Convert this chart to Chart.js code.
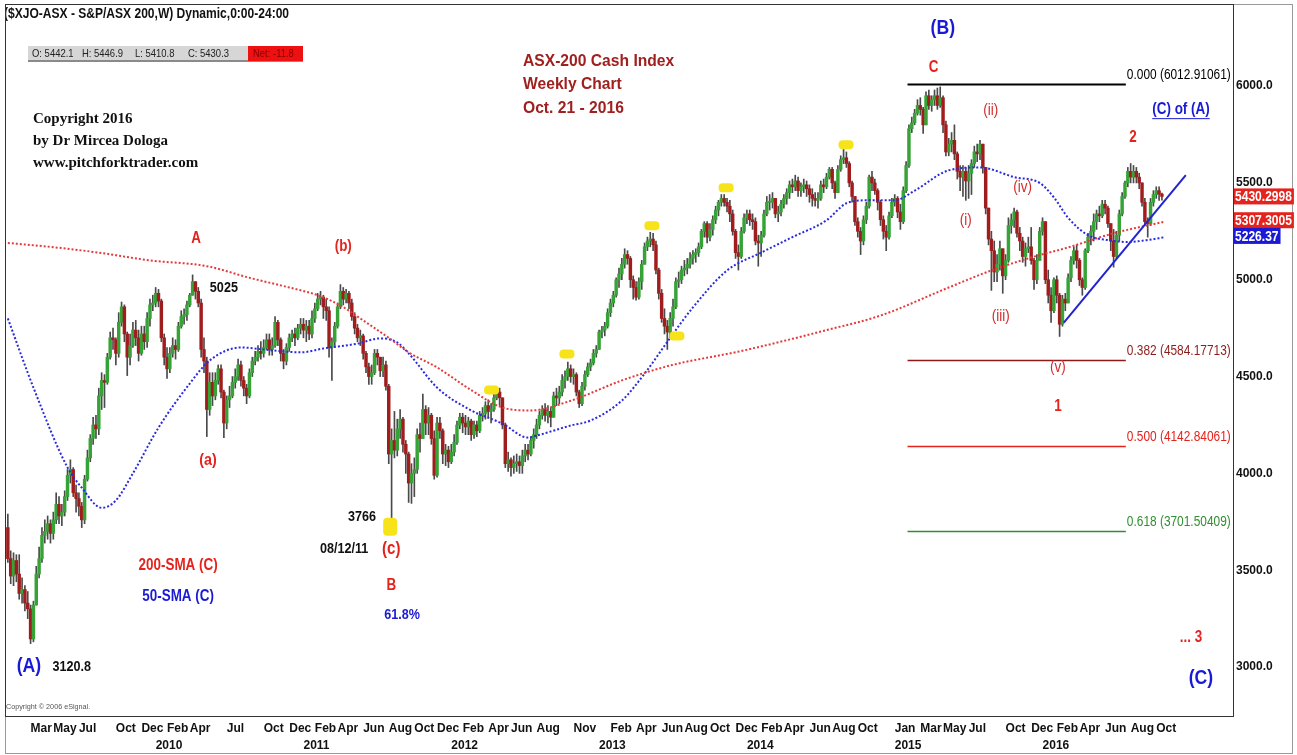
<!DOCTYPE html>
<html>
<head>
<meta charset="utf-8">
<title>ASX-200 Cash Index - Weekly</title>
<script src="https://cdn.jsdelivr.net/npm/chart.js@4.4.1/dist/chart.umd.min.js"></script>
<style>
  html, body { margin: 0; padding: 0; background: #fff; }
  canvas { display: block; }
</style>
</head>
<body>
<canvas id="asx-canvas" width="1297" height="755"></canvas>
<script>
// Barras semanales: semana 0 = 9 ene 2009, última = 21 oct 2016
const firstOpen = 3720;

const closes = [
  3560, 3470, 3550, 3480, 3380, 3400, 3330, 3300, 3145, 3320,   // 0
  3480, 3560, 3680, 3700, 3740, 3690, 3760, 3840, 3780, 3800,   // 10
  3880, 3990, 4020, 3900, 3870, 3830, 3760, 3970, 4080, 4180,   // 20
  4250, 4230, 4400, 4480, 4470, 4600, 4700, 4690, 4620, 4780,   // 30
  4860, 4720, 4600, 4660, 4740, 4700, 4620, 4720, 4680, 4800,   // 40
  4870, 4880, 4930, 4890, 4700, 4600, 4540, 4620, 4660, 4640,   // 50
  4760, 4810, 4820, 4870, 4920, 4990, 4940, 4880, 4640, 4580,   // 60
  4330, 4470, 4400, 4480, 4540, 4420, 4260, 4380, 4400, 4470,   // 70
  4500, 4560, 4480, 4440, 4400, 4520, 4580, 4600, 4630, 4620,   // 80
  4650, 4690, 4640, 4660, 4780, 4690, 4620, 4580, 4650, 4700,   // 90
  4720, 4700, 4750, 4770, 4740, 4760, 4720, 4800, 4850, 4900,   // 100
  4910, 4860, 4840, 4650, 4680, 4760, 4860, 4940, 4900, 4930,   // 110
  4880, 4810, 4750, 4700, 4710, 4620, 4550, 4500, 4520, 4620,   // 120
  4600, 4530, 4560, 4450, 4100, 4170, 4120, 4230, 4280, 4150,   // 130
  4100, 3950, 4000, 4020, 4200, 4180, 4330, 4260, 4300, 4180,   // 140
  3990, 4260, 4220, 4100, 4120, 4060, 4110, 4160, 4250, 4290,   // 150
  4260, 4240, 4270, 4200, 4250, 4220, 4300, 4310, 4350, 4320,   // 160
  4330, 4390, 4420, 4390, 4250, 4050, 4070, 4030, 4050, 4060,   // 170
  4040, 4090, 4120, 4100, 4170, 4200, 4250, 4300, 4330, 4300,   // 180
  4320, 4290, 4400, 4390, 4420, 4480, 4500, 4540, 4500, 4510,   // 190
  4420, 4360, 4450, 4510, 4550, 4570, 4620, 4640, 4730, 4740,   // 200
  4760, 4830, 4880, 4920, 5000, 5030, 5080, 5130, 5110, 5000,   // 210
  4960, 4910, 4990, 5080, 5170, 5200, 5210, 5180, 5050, 4930,   // 220
  4800, 4760, 4730, 4800, 4860, 4990, 5000, 5050, 5060, 5080,   // 230
  5110, 5130, 5140, 5170, 5250, 5290, 5220, 5260, 5310, 5360,   // 240
  5400, 5420, 5400, 5380, 5340, 5250, 5140, 5120, 5250, 5320,   // 250
  5340, 5310, 5300, 5200, 5190, 5230, 5340, 5400, 5400, 5420,   // 260
  5340, 5350, 5390, 5420, 5450, 5490, 5480, 5510, 5460, 5480,   // 270
  5490, 5470, 5440, 5420, 5410, 5420, 5490, 5480, 5530, 5570,   // 280
  5500, 5450, 5570, 5620, 5630, 5600, 5500, 5430, 5300, 5250,   // 290
  5200, 5310, 5380, 5530, 5500, 5460, 5400, 5310, 5250, 5220,   // 300
  5330, 5400, 5420, 5350, 5300, 5460, 5590, 5780, 5810, 5860,   // 310
  5900, 5880, 5800, 5950, 5900, 5930, 5950, 5900, 5940, 5800,   // 320
  5660, 5700, 5720, 5650, 5560, 5530, 5560, 5510, 5550, 5600,   // 330
  5660, 5650, 5700, 5580, 5370, 5210, 5150, 5040, 5080, 5160,   // 340
  5020, 5100, 5280, 5310, 5350, 5240, 5200, 5120, 5160, 5170,   // 350
  5100, 5000, 5100, 5250, 5300, 5000, 4920, 4840, 5000, 4920,   // 360
  4770, 4900, 4880, 5010, 5100, 5150, 5100, 5000, 4960, 5150,   // 370
  5220, 5250, 5300, 5340, 5330, 5390, 5370, 5290, 5200, 5120,   // 380
  5230, 5340, 5430, 5500, 5560, 5530, 5560, 5530, 5500, 5400,   // 390
  5300, 5290, 5400, 5440, 5460, 5442.1, 5430.3                  // 400
];

const highs = [
  3790, 3600, 3590, 3580, 3580, 3460, 3420, 3390, 3320, 3340,
  3520, 3620, 3720, 3760, 3780, 3760, 3800, 3900, 3880, 3840,
  3910, 4020, 4070, 4030, 3940, 3900, 3850, 3990, 4120, 4200,
  4290, 4300, 4440, 4520, 4510, 4620, 4730, 4750, 4700, 4830,
  4885, 4870, 4730, 4720, 4780, 4790, 4740, 4760, 4760, 4830,
  4900, 4920, 4960, 4950, 4900, 4720, 4650, 4650, 4700, 4690,
  4780, 4840, 4850, 4890, 4930, 5025, 4990, 4960, 4900, 4700,
  4600, 4520, 4520, 4520, 4560, 4560, 4430, 4400, 4450, 4500,
  4540, 4590, 4580, 4500, 4460, 4540, 4600, 4630, 4660, 4680,
  4690, 4720, 4720, 4700, 4810, 4790, 4700, 4640, 4670, 4720,
  4740, 4750, 4770, 4800, 4800, 4790, 4790, 4840, 4880, 4930,
  4940, 4920, 4900, 4860, 4700, 4780, 4880, 4975, 4960, 4950,
  4940, 4900, 4830, 4770, 4740, 4720, 4630, 4570, 4560, 4640,
  4640, 4600, 4600, 4580, 4460, 4230, 4320, 4280, 4330, 4290,
  4170, 4110, 4050, 4080, 4230, 4260, 4410, 4350, 4340, 4310,
  4220, 4290, 4290, 4230, 4150, 4140, 4150, 4200, 4270, 4310,
  4310, 4300, 4290, 4280, 4270, 4270, 4320, 4340, 4370, 4380,
  4360, 4410, 4440, 4440, 4390, 4260, 4110, 4080, 4090, 4100,
  4090, 4120, 4150, 4150, 4190, 4230, 4280, 4320, 4350, 4360,
  4350, 4340, 4420, 4440, 4450, 4510, 4530, 4575, 4560, 4540,
  4520, 4430, 4470, 4530, 4570, 4590, 4640, 4660, 4740, 4760,
  4780, 4850, 4900, 4940, 5010, 5060, 5110, 5160, 5150, 5120,
  5020, 4990, 5010, 5100, 5190, 5220, 5245, 5240, 5200, 5060,
  4950, 4850, 4790, 4830, 4900, 5010, 5040, 5070, 5100, 5110,
  5140, 5150, 5160, 5190, 5260, 5300, 5300, 5290, 5330, 5380,
  5410, 5440, 5440, 5420, 5410, 5360, 5260, 5180, 5270, 5340,
  5360, 5360, 5340, 5320, 5230, 5250, 5360, 5430, 5440, 5450,
  5420, 5380, 5410, 5440, 5470, 5510, 5520, 5540, 5530, 5500,
  5520, 5510, 5490, 5470, 5450, 5450, 5510, 5520, 5550, 5580,
  5580, 5510, 5590, 5640, 5680, 5660, 5610, 5510, 5430, 5320,
  5270, 5330, 5400, 5540, 5560, 5520, 5470, 5410, 5330, 5280,
  5350, 5420, 5440, 5430, 5390, 5480, 5610, 5800, 5840, 5880,
  5930, 5940, 5890, 5970, 5980, 5950, 5980, 5990, 5996, 5950,
  5820, 5730, 5760, 5800, 5660, 5590, 5590, 5580, 5590, 5620,
  5690, 5700, 5720, 5700, 5580, 5370, 5250, 5200, 5130, 5200,
  5160, 5130, 5320, 5340, 5370, 5360, 5270, 5220, 5190, 5220,
  5270, 5110, 5130, 5270, 5320, 5290, 5050, 4960, 5010, 5020,
  4930, 4920, 4930, 5030, 5120, 5170, 5180, 5110, 5010, 5160,
  5240, 5280, 5340, 5360, 5380, 5410, 5410, 5380, 5290, 5260,
  5250, 5360, 5450, 5510, 5580, 5600, 5590, 5580, 5550, 5500,
  5420, 5320, 5420, 5460, 5480, 5480, 5446.9
];

const lows = [
  3540, 3430, 3420, 3440, 3350, 3330, 3290, 3250, 3120.8, 3130,
  3330, 3460, 3540, 3640, 3660, 3640, 3660, 3740, 3740, 3730,
  3780, 3860, 3950, 3880, 3800, 3780, 3720, 3740, 3960, 4060,
  4150, 4180, 4200, 4330, 4340, 4460, 4590, 4640, 4560, 4600,
  4760, 4680, 4505, 4560, 4650, 4660, 4580, 4610, 4640, 4650,
  4760, 4840, 4860, 4860, 4680, 4560, 4490, 4520, 4600, 4590,
  4630, 4750, 4770, 4790, 4860, 4920, 4900, 4860, 4600, 4520,
  4190, 4300, 4350, 4380, 4460, 4390, 4185, 4230, 4340, 4390,
  4440, 4480, 4450, 4400, 4360, 4390, 4500, 4560, 4580, 4590,
  4600, 4640, 4610, 4610, 4650, 4660, 4580, 4540, 4560, 4630,
  4680, 4660, 4690, 4720, 4700, 4680, 4690, 4700, 4780, 4840,
  4870, 4800, 4790, 4600, 4480, 4660, 4750, 4850, 4870, 4880,
  4850, 4790, 4720, 4680, 4660, 4590, 4520, 4460, 4460, 4510,
  4560, 4500, 4500, 4430, 4050, 3766, 4080, 4090, 4180, 4110,
  4000, 3850, 3845, 3880, 4000, 4110, 4180, 4200, 4200, 4150,
  3970, 3980, 4180, 4050, 4040, 4030, 4050, 4090, 4150, 4230,
  4210, 4200, 4200, 4170, 4180, 4190, 4210, 4270, 4280, 4290,
  4260, 4320, 4380, 4350, 4230, 4030, 4010, 3985, 4000, 4010,
  4000, 4000, 4060, 4070, 4090, 4130, 4180, 4230, 4280, 4270,
  4260, 4240, 4290, 4350, 4360, 4400, 4440, 4480, 4470, 4460,
  4400, 4340, 4350, 4430, 4500, 4530, 4560, 4600, 4640, 4700,
  4710, 4750, 4810, 4860, 4910, 4960, 5000, 5060, 5080, 4960,
  4900, 4895, 4900, 4950, 5080, 5150, 5170, 5150, 5030, 4900,
  4780, 4720, 4640, 4700, 4760, 4850, 4960, 4980, 5020, 5030,
  5060, 5080, 5090, 5120, 5160, 5220, 5190, 5200, 5230, 5290,
  5330, 5380, 5380, 5350, 5300, 5230, 5110, 5050, 5110, 5240,
  5290, 5280, 5260, 5180, 5070, 5120, 5220, 5330, 5360, 5370,
  5320, 5300, 5330, 5370, 5390, 5420, 5450, 5460, 5430, 5430,
  5450, 5430, 5400, 5380, 5380, 5370, 5410, 5450, 5470, 5520,
  5470, 5420, 5450, 5560, 5600, 5580, 5480, 5400, 5280, 5220,
  5130, 5180, 5290, 5370, 5460, 5440, 5360, 5280, 5210, 5150,
  5210, 5320, 5380, 5320, 5260, 5290, 5450, 5580, 5760, 5800,
  5850, 5850, 5755, 5800, 5880, 5870, 5900, 5880, 5890, 5760,
  5640, 5640, 5660, 5620, 5520, 5460, 5430, 5410, 5420, 5440,
  5580, 5610, 5620, 5550, 5340, 5180, 4945, 4990, 4990, 5050,
  4930, 5000, 5090, 5240, 5270, 5220, 5150, 5090, 5070, 5140,
  5080, 4950, 4980, 5100, 5230, 4980, 4880, 4780, 4830, 4880,
  4707, 4760, 4840, 4880, 4990, 5080, 5060, 4970, 4920, 4950,
  5140, 5180, 5200, 5260, 5300, 5320, 5340, 5270, 5150, 5065,
  5110, 5200, 5330, 5420, 5480, 5500, 5500, 5500, 5470, 5380,
  5280, 5220, 5280, 5380, 5420, 5410, 5410.8
];

// Medias móviles (semana, valor)
const sma200Weeks  = [0, 18, 32, 50, 70, 85, 99, 109, 117, 125, 134, 141, 151, 163, 174, 184, 198, 216, 233, 259, 288, 307, 331, 346, 360, 373, 389, 407];
const sma200Values = [5190, 5165, 5140, 5100, 5070, 5010, 4960, 4920, 4867, 4790, 4700, 4625, 4547, 4430, 4340, 4325, 4375, 4480, 4557, 4635, 4740, 4815, 4960, 5048, 5115, 5167, 5240, 5300];
const sma50Weeks   = [0, 9, 21, 26, 33, 38, 44, 53, 64, 71, 82, 93, 103, 111, 123, 131, 137, 141, 151, 163, 174, 183, 186, 198, 205, 216, 224, 233, 241, 253, 265, 276, 288, 295, 302, 312, 319, 331, 342, 354, 363, 368, 373, 380, 387, 394, 401, 407];
const sma50Values  = [4800, 4443, 4030, 3926, 3822, 3860, 4000, 4236, 4464, 4583, 4650, 4635, 4625, 4645, 4670, 4697, 4676, 4620, 4443, 4325, 4257, 4185, 4195, 4247, 4273, 4376, 4515, 4700, 4857, 5048, 5140, 5220, 5307, 5395, 5410, 5410, 5460, 5565, 5580, 5530, 5500, 5425, 5320, 5230, 5205, 5195, 5205, 5220];

// Etiquetas del eje temporal
const monthTickWeeks  = [8, 16, 25, 38, 47, 56, 64, 77, 90, 99, 108, 116, 125, 134, 143, 151, 160, 169, 177, 186, 199, 212, 221, 230, 238, 247, 256, 265, 273, 282, 290, 299, 312, 321, 329, 338, 351, 360, 369, 377, 386, 395, 404];
const monthTickLabels = ['Mar', 'May', 'Jul', 'Oct', 'Dec', 'Feb', 'Apr', 'Jul', 'Oct', 'Dec', 'Feb', 'Apr', 'Jun', 'Aug', 'Oct', 'Dec', 'Feb', 'Apr', 'Jun', 'Aug', 'Nov', 'Feb', 'Apr', 'Jun', 'Aug', 'Oct', 'Dec', 'Feb', 'Apr', 'Jun', 'Aug', 'Oct', 'Jan', 'Mar', 'May', 'Jul', 'Oct', 'Dec', 'Feb', 'Apr', 'Jun', 'Aug', 'Oct'];
const yearTickWeeks   = [52, 104, 156, 208, 260, 312, 364];
const yearTickLabels  = ['2010', '2011', '2012', '2013', '2014', '2015', '2016'];
const priceTicks      = [3000, 3500, 4000, 4500, 5000, 5500, 6000];

// Niveles de Fibonacci
const fibRatios = ['0.000', '0.382', '0.500', '0.618'];
const fibLevels = [6012.91061, 4584.17713, 4142.84061, 3701.50409];
const fibColors = ['#000000', '#8e1b1b', '#e5231d', '#2f8f2f'];
const fibFromWeek = 316.5, fibToWeek = 393.3;

// Línea de tendencia y marcas amarillas
const trendWeeks  = [371.5, 414.4];
const trendValues = [4779, 5540];
const markerWeeks  = [170, 196.5, 226.4, 235.2, 252.5, 294.7];
const markerValues = [4433, 4619, 5281, 4712, 5478, 5700];
const bigMarker = { week: 134.5, value: 3724 };

// Valores del eje derecho
const axisBoxValues = [5430.2998, 5307.3005, 5226.37];
const axisBoxColors = ['#e5231d', '#e5231d', '#1a1ad6'];

const RED = '#e5231d', BLUE = '#1a1ad6', BLACK = '#111111', WAVE = '#d42a2a';
const SANS = '"Liberation Sans", Arial, sans-serif';
const SERIF = '"Liberation Serif", "Times New Roman", serif';

// Etiquetas de ondas (semana, precio)
const notes = [
  { t: 'A', w: 66.2, v: 5214, c: RED, f: 'bold 16px' },
  { t: '(b)', w: 118, v: 5172, c: RED, f: 'bold 16px' },
  { t: '5025', w: 76, v: 4960, c: BLACK, f: 'bold 15px' },
  { t: '(a)', w: 70.4, v: 4066, c: RED, f: 'bold 17px' },
  { t: '3766', w: 124.6, v: 3776, c: BLACK, f: 'bold 15px' },
  { t: '08/12/11', w: 118.3, v: 3610, c: BLACK, f: 'bold 15px' },
  { t: '(c)', w: 134.9, v: 3610, c: RED, f: 'bold 18px' },
  { t: 'B', w: 134.9, v: 3419, c: RED, f: 'bold 16px' },
  { t: '61.8%', w: 138.7, v: 3269, c: BLUE, f: 'bold 15px' },
  { t: '200-SMA (C)', w: 59.9, v: 3522, c: RED, f: 'bold 16px' },
  { t: '50-SMA (C)', w: 59.9, v: 3362, c: BLUE, f: 'bold 16px' },
  { t: '(A)', w: 7.4, v: 3005, c: BLUE, f: 'bold 21px' },
  { t: '3120.8', w: 22.5, v: 3000, c: BLACK, f: 'bold 15px' },
  { t: '(B)', w: 328.9, v: 6300, c: BLUE, f: 'bold 21px' },
  { t: 'C', w: 325.7, v: 6098, c: RED, f: 'bold 16px' },
  { t: '(ii)', w: 345.8, v: 5876, c: WAVE, f: '16px' },
  { t: '(i)', w: 337, v: 5307, c: WAVE, f: '16px' },
  { t: '(iv)', w: 357, v: 5478, c: WAVE, f: '16px' },
  { t: '(iii)', w: 349.3, v: 4810, c: WAVE, f: '16px' },
  { t: '(v)', w: 369.4, v: 4547, c: WAVE, f: '16px' },
  { t: '1', w: 369.4, v: 4345, c: RED, f: 'bold 16px' },
  { t: '2', w: 395.8, v: 5736, c: RED, f: 'bold 16px' },
  { t: '(C) of (A)', w: 412.7, v: 5881, c: BLUE, f: 'bold 16px', u: true },
  { t: '... 3', w: 416.2, v: 3150, c: RED, f: 'bold 16px' },
  { t: '(C)', w: 419.7, v: 2943, c: BLUE, f: 'bold 21px' }
];

const titleLines = ['ASX-200 Cash Index', 'Weekly Chart', 'Oct. 21 - 2016'];
const copyLines = ['Copyright 2016', 'by Dr Mircea Dologa', 'www.pitchforktrader.com'];

const opens = closes.map((c, i) => i === 0 ? firstOpen : closes[i - 1]);

// Texto estrecho (imita Arial Narrow) comprimiendo en horizontal
function narrowText(c, s, x, y, font, color, align, sx) {
  c.save();
  c.font = font;
  c.fillStyle = color;
  c.textAlign = align || 'left';
  c.textBaseline = 'middle';
  c.translate(x, y);
  c.scale(sx || 0.84, 1);
  c.fillText(s, 0, 0);
  const w = c.measureText(s).width * (sx || 0.84);
  c.restore();
  return w;
}

function initChart() {
  const ctx = document.getElementById('asx-canvas').getContext('2d');

  const wickData = closes.map((c, i) => ({
    x: i, y: [Math.min(lows[i], opens[i], c), Math.max(highs[i], opens[i], c)]
  }));
  const bodyData = closes.map((c, i) => ({ x: i, y: [opens[i], c] }));
  const bodyColors = closes.map((c, i) => c >= opens[i] ? '#36a336' : '#a11d1d');

  const overlay = {
    id: 'overlay',
    beforeDraw(chart) {
      const c = chart.ctx;
      c.save();
      c.fillStyle = '#ffffff';
      c.fillRect(0, 0, chart.width, chart.height);
      c.restore();
    },
    afterDatasetsDraw(chart) {
      const c = chart.ctx;
      const { x, y } = chart.scales;
      const a = chart.chartArea;
      c.save();
      c.beginPath();
      c.rect(a.left, a.top, a.right - a.left, a.bottom - a.top);
      c.clip();

      // Fibonacci
      fibLevels.forEach((lv, i) => {
        const py = Math.round(y.getPixelForValue(lv)) + 0.5;
        c.strokeStyle = fibColors[i];
        c.lineWidth = i === 0 ? 2 : 1.5;
        c.beginPath();
        c.moveTo(x.getPixelForValue(fibFromWeek), py);
        c.lineTo(x.getPixelForValue(fibToWeek), py);
        c.stroke();
        narrowText(c, fibRatios[i] + ' (' + lv.toFixed(5) + ')', x.getPixelForValue(fibToWeek) + 1, py - 9,
          '14px ' + SANS, fibColors[i], 'left', 0.85);
      });

      // Tendencia
      c.strokeStyle = '#2323cf';
      c.lineWidth = 2;
      c.beginPath();
      c.moveTo(x.getPixelForValue(trendWeeks[0]), y.getPixelForValue(trendValues[0]));
      c.lineTo(x.getPixelForValue(trendWeeks[1]), y.getPixelForValue(trendValues[1]));
      c.stroke();

      // Marcas amarillas
      c.fillStyle = '#f7e31a';
      markerWeeks.forEach((w, i) => {
        const px = x.getPixelForValue(w), py = y.getPixelForValue(markerValues[i]);
        c.beginPath();
        c.roundRect(px - 7, py - 4, 15, 9, 4);
        c.fill();
      });
      const bx = x.getPixelForValue(bigMarker.week), by = y.getPixelForValue(bigMarker.value);
      c.beginPath();
      c.roundRect(bx - 7, by - 9, 14, 18, 4);
      c.fill();

      // Textos de ondas
      notes.forEach(n => {
        const px = x.getPixelForValue(n.w), py = y.getPixelForValue(n.v);
        const tw = narrowText(c, n.t, px, py, n.f + ' ' + SANS, n.c, 'center', 0.84);
        if (n.u) {
          c.strokeStyle = n.c;
          c.lineWidth = 1;
          c.beginPath();
          c.moveTo(px - tw / 2, py + 9.5);
          c.lineTo(px + tw / 2, py + 9.5);
          c.stroke();
        }
      });

      // Título
      titleLines.forEach((t, i) =>
        narrowText(c, t, a.left + 518, a.top + 57 + i * 23.5, 'bold 17px ' + SANS, '#a01f1f', 'left', 0.92));

      // Copyright
      c.fillStyle = '#111';
      c.font = 'bold 15px ' + SERIF;
      c.textAlign = 'left';
      c.textBaseline = 'middle';
      copyLines.forEach((t, i) => c.fillText(t, a.left + 28, a.top + 115 + i * 22));

      // Encabezado
      narrowText(c, '($XJO-ASX - S&P/ASX 200,W) Dynamic,0:00-24:00', a.left - 1, a.top + 10,
        'bold 14px ' + SANS, '#111', 'left', 0.86);

      // Caja OHLC
      const last = closes.length - 1;
      c.fillStyle = '#d6d6d6';
      c.fillRect(a.left + 23, a.top + 42, 275, 15);
      c.fillStyle = '#8a8a8a';
      c.fillRect(a.left + 23, a.top + 56, 275, 2);
      c.fillStyle = '#ee1111';
      c.fillRect(a.left + 243, a.top + 42, 55, 15);
      const ohlcFont = '11px ' + SANS;
      narrowText(c, 'O: ' + opens[last].toFixed(1), a.left + 27, a.top + 50, ohlcFont, '#222', 'left', 0.86);
      narrowText(c, 'H: ' + highs[last].toFixed(1), a.left + 77, a.top + 50, ohlcFont, '#222', 'left', 0.86);
      narrowText(c, 'L: ' + lows[last].toFixed(1), a.left + 130, a.top + 50, ohlcFont, '#222', 'left', 0.86);
      narrowText(c, 'C: ' + closes[last].toFixed(1), a.left + 183, a.top + 50, ohlcFont, '#222', 'left', 0.86);
      narrowText(c, 'Net: ' + (closes[last] - opens[last]).toFixed(1), a.left + 248, a.top + 50, ohlcFont, '#8a0000', 'left', 0.86);

      // eSignal
      narrowText(c, 'Copyright \u00a9 2006 eSignal.', a.left + 1, a.bottom - 9, '8px ' + SANS, '#555', 'left', 0.9);
      c.restore();
    },
    afterDraw(chart) {
      const c = chart.ctx;
      const a = chart.chartArea;
      const { y } = chart.scales;
      c.save();
      // Marcos
      c.strokeStyle = '#9a9a9a';
      c.lineWidth = 1;
      c.strokeRect(a.left + 0.5, a.top + 0.5, 1293 - a.left - 1, chart.height - a.top - 2);
      c.strokeStyle = '#333';
      c.strokeRect(a.left + 0.5, a.top + 0.5, a.right - a.left, a.bottom - a.top);

      // Cajas de valores en el eje
      axisBoxValues.forEach((v, i) => {
        const py = y.getPixelForValue(v);
        const label = String(v);
        c.font = 'bold 14px ' + SANS;
        const tw = c.measureText(label).width * 0.86;
        c.fillStyle = axisBoxColors[i];
        c.fillRect(a.right + 1, py - 8, tw + 3, 16);
        narrowText(c, label, a.right + 2, py + 1, 'bold 14px ' + SANS, '#ffffff', 'left', 0.86);
      });
      c.restore();
    }
  };

  const noPad = s => { s.paddingTop = 0; s.paddingBottom = 0; s.paddingLeft = 0; s.paddingRight = 0; };

  new Chart(ctx, {
    type: 'bar',
    data: {
      datasets: [
        {
          type: 'line',
          label: '200-SMA',
          data: sma200Weeks.map((w, i) => ({ x: w, y: sma200Values[i] })),
          borderColor: '#e53a3a',
          borderWidth: 2,
          borderDash: [2, 2],
          pointRadius: 0,
          cubicInterpolationMode: 'monotone',
          order: 0
        },
        {
          type: 'line',
          label: '50-SMA',
          data: sma50Weeks.map((w, i) => ({ x: w, y: sma50Values[i] })),
          borderColor: '#2a2ade',
          borderWidth: 2,
          borderDash: [2, 2],
          pointRadius: 0,
          cubicInterpolationMode: 'monotone',
          order: 0
        },
        {
          label: 'Cuerpo',
          data: bodyData,
          backgroundColor: bodyColors,
          barThickness: 2.8,
          minBarLength: 1,
          grouped: false,
          order: 1
        },
        {
          label: 'Mecha',
          data: wickData,
          backgroundColor: '#4a4a4a',
          barThickness: 1,
          grouped: false,
          order: 2
        }
      ]
    },
    options: {
      responsive: false,
      animation: false,
      events: [],
      layout: { padding: { left: 5, top: 4, right: 0, bottom: 0 } },
      font: { family: SANS },
      plugins: {
        legend: { display: false },
        tooltip: { enabled: false }
      },
      scales: {
        x: {
          type: 'linear',
          position: 'bottom',
          min: -1,
          max: 431,
          offset: false,
          grid: { display: false, drawTicks: false },
          border: { display: false },
          afterBuildTicks: s => { s.ticks = monthTickWeeks.map(v => ({ value: v })); },
          afterFit: s => { s.height = 20; noPad(s); },
          ticks: {
            autoSkip: false,
            maxRotation: 0,
            align: 'start',
            padding: 5,
            color: '#111',
            font: { family: SANS, size: 12, weight: 'bold' },
            callback: v => monthTickLabels[monthTickWeeks.indexOf(v)]
          }
        },
        x2: {
          type: 'linear',
          position: 'bottom',
          min: -1,
          max: 431,
          offset: false,
          grid: { display: false, drawTicks: false },
          border: { display: false },
          afterBuildTicks: s => { s.ticks = yearTickWeeks.map(v => ({ value: v })); },
          afterFit: s => { s.height = 19; noPad(s); },
          ticks: {
            autoSkip: false,
            maxRotation: 0,
            align: 'start',
            padding: 2,
            color: '#111',
            font: { family: SANS, size: 12, weight: 'bold' },
            callback: v => yearTickLabels[yearTickWeeks.indexOf(v)]
          }
        },
        y: {
          position: 'right',
          min: 2747,
          max: 6424,
          grid: { display: false, drawTicks: false },
          border: { display: false },
          afterBuildTicks: s => { s.ticks = priceTicks.map(v => ({ value: v })); },
          afterFit: s => { s.width = 64; noPad(s); },
          ticks: {
            padding: 3,
            color: '#111',
            font: { family: SANS, size: 12, weight: 'bold' },
            callback: v => Number(v).toFixed(1)
          }
        }
      }
    },
    plugins: [overlay]
  });
}

initChart();
</script>
</body>
</html>
